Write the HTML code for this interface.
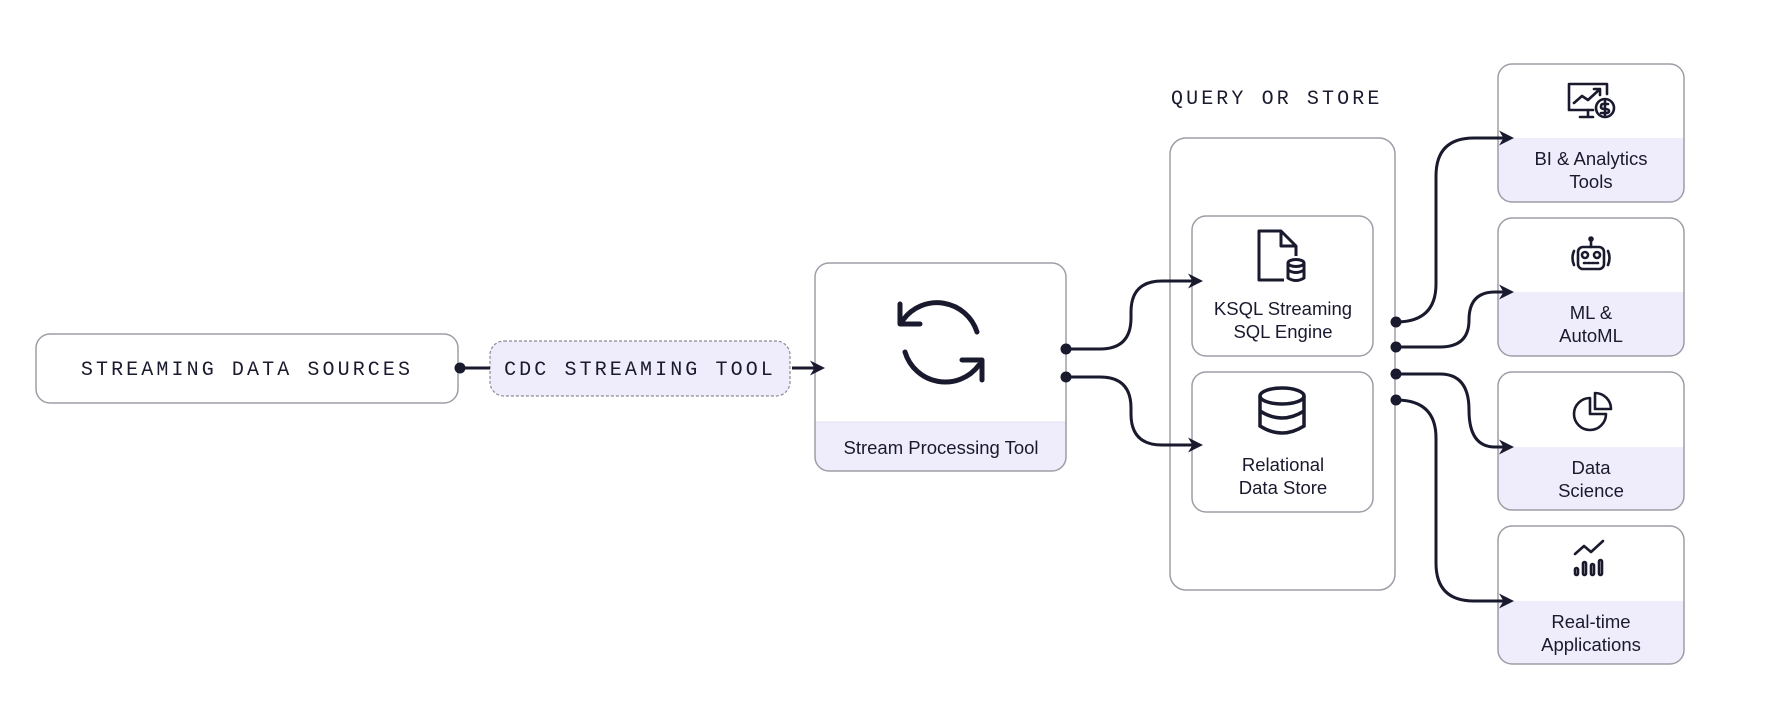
<!DOCTYPE html>
<html><head><meta charset="utf-8"><style>
html,body{margin:0;padding:0;background:#fff;}
svg{display:block;}
.mono{font-family:"Liberation Mono",monospace;font-size:20px;letter-spacing:3.1px;fill:#1a1a2e;}
.sans{font-family:"Liberation Sans",sans-serif;font-size:18.5px;fill:#1a1a2e;}
</style></head><body>
<svg width="1788" height="724" viewBox="0 0 1788 724" xmlns="http://www.w3.org/2000/svg">
<defs>
<marker id="ar" viewBox="0 0 10 10" refX="8" refY="5" markerWidth="15" markerHeight="15" orient="auto" markerUnits="userSpaceOnUse">
<path d="M0,0 L10,5 L0,10 L3,5 Z" fill="#1a1a2e"/>
</marker>
<clipPath id="c1"><rect x="815" y="263" width="251" height="208" rx="14"/></clipPath>
<clipPath id="r1"><rect x="1498" y="64" width="186" height="138" rx="14"/></clipPath>
<clipPath id="r2"><rect x="1498" y="218" width="186" height="138" rx="14"/></clipPath>
<clipPath id="r3"><rect x="1498" y="372" width="186" height="138" rx="14"/></clipPath>
<clipPath id="r4"><rect x="1498" y="526" width="186" height="138" rx="14"/></clipPath>
</defs>

<!-- Streaming data sources -->
<rect x="36" y="334" width="422" height="69" rx="14" fill="#fff" stroke="#9d9da6" stroke-width="1.5"/>
<text class="mono" x="247" y="375" text-anchor="middle">STREAMING DATA SOURCES</text>

<!-- CDC -->
<rect x="490" y="341" width="300" height="55" rx="14" fill="#efedfb" stroke="#8a8a98" stroke-width="1.2" stroke-dasharray="3,2"/>
<text class="mono" x="640" y="375" text-anchor="middle">CDC STREAMING TOOL</text>

<!-- Stream processing -->
<g clip-path="url(#c1)">
<rect x="815" y="263" width="251" height="208" fill="#fff"/>
<rect x="815" y="422" width="251" height="60" fill="#efedfb"/>
</g>
<line x1="815" y1="422" x2="1066" y2="422" stroke="#e2e0ee" stroke-width="1"/>
<rect x="815" y="263" width="251" height="208" rx="14" fill="none" stroke="#9d9da6" stroke-width="1.5"/>
<text class="sans" x="941" y="454" text-anchor="middle">Stream Processing Tool</text>
<g fill="none" stroke="#1a1a2e" stroke-width="5" stroke-linecap="round" stroke-linejoin="round">
<path d="M903,320 A42,42 0 0 1 977,332"/>
<path d="M979,365 A42,42 0 0 1 905,352"/>
<path d="M900,304 L900,324 L920,324"/>
<path d="M982,380 L982,360 L962,360"/>
</g>

<!-- Query or store -->
<text class="mono" x="1171" y="104">QUERY OR STORE</text>
<rect x="1170" y="138" width="225" height="452" rx="16" fill="#fff" stroke="#9d9da6" stroke-width="1.5"/>
<rect x="1192" y="216" width="181" height="140" rx="14" fill="#fff" stroke="#9d9da6" stroke-width="1.5"/>
<rect x="1192" y="372" width="181" height="140" rx="14" fill="#fff" stroke="#9d9da6" stroke-width="1.5"/>
<text class="sans" x="1283" y="315" text-anchor="middle">KSQL Streaming</text>
<text class="sans" x="1283" y="338" text-anchor="middle">SQL Engine</text>
<text class="sans" x="1283" y="471" text-anchor="middle">Relational</text>
<text class="sans" x="1283" y="494" text-anchor="middle">Data Store</text>
<g fill="none" stroke="#1a1a2e" stroke-width="3" stroke-linejoin="round">
<path d="M1284,280 H1259 V231 H1281 L1296,246 V256"/>
<path d="M1281,231 V246 H1296"/>
<ellipse cx="1296" cy="263" rx="8" ry="3.5"/>
<path d="M1288,263 V278 Q1296,283 1304,278 V263"/>
<path d="M1288,270 Q1296,275 1304,270"/>
</g>
<g fill="none" stroke="#1a1a2e" stroke-width="3.5">
<ellipse cx="1282" cy="396" rx="22" ry="8"/>
<path d="M1260,396 V426 Q1282,440 1304,426 V396"/>
<path d="M1260,411 Q1282,425 1304,411"/>
</g>

<!-- right boxes -->
<g clip-path="url(#r1)"><rect x="1498" y="64" width="186" height="138" fill="#fff"/><rect x="1498" y="138" width="186" height="70" fill="#efedfb"/></g>
<rect x="1498" y="64" width="186" height="138" rx="14" fill="none" stroke="#9d9da6" stroke-width="1.5"/>
<g clip-path="url(#r2)"><rect x="1498" y="218" width="186" height="138" fill="#fff"/><rect x="1498" y="292" width="186" height="70" fill="#efedfb"/></g>
<rect x="1498" y="218" width="186" height="138" rx="14" fill="none" stroke="#9d9da6" stroke-width="1.5"/>
<g clip-path="url(#r3)"><rect x="1498" y="372" width="186" height="138" fill="#fff"/><rect x="1498" y="447" width="186" height="70" fill="#efedfb"/></g>
<rect x="1498" y="372" width="186" height="138" rx="14" fill="none" stroke="#9d9da6" stroke-width="1.5"/>
<g clip-path="url(#r4)"><rect x="1498" y="526" width="186" height="138" fill="#fff"/><rect x="1498" y="601" width="186" height="70" fill="#efedfb"/></g>
<rect x="1498" y="526" width="186" height="138" rx="14" fill="none" stroke="#9d9da6" stroke-width="1.5"/>

<text class="sans" x="1591" y="165" text-anchor="middle">BI &amp; Analytics</text>
<text class="sans" x="1591" y="188" text-anchor="middle">Tools</text>
<text class="sans" x="1591" y="319" text-anchor="middle">ML &amp;</text>
<text class="sans" x="1591" y="342" text-anchor="middle">AutoML</text>
<text class="sans" x="1591" y="474" text-anchor="middle">Data</text>
<text class="sans" x="1591" y="497" text-anchor="middle">Science</text>
<text class="sans" x="1591" y="628" text-anchor="middle">Real-time</text>
<text class="sans" x="1591" y="651" text-anchor="middle">Applications</text>

<g fill="none" stroke="#1a1a2e" stroke-width="2.6" stroke-linecap="round" stroke-linejoin="round">
<path d="M1593,110 H1569 V84 H1607 V94"/>
<path d="M1588,110 V117 M1580,117 H1593"/>
<path d="M1574,103 L1582,96 L1588,100 L1600,89 M1594,89 H1600 V95"/>
<circle cx="1605" cy="108" r="9"/>
<path d="M1608,104 H1603 Q1601,104 1601,107 Q1601,109 1605,109 Q1609,109 1609,111 Q1609,113 1606,113 H1601 M1605,101 V115"/>
<rect x="1578" y="247" width="26" height="22" rx="5"/>
<path d="M1591,247 V241"/>
<circle cx="1591" cy="239" r="1.5" fill="#1a1a2e"/>
<circle cx="1585" cy="255" r="3"/><circle cx="1597" cy="255" r="3"/>
<path d="M1584,263 H1598" stroke-dasharray="2,2"/>
<path d="M1574,251 Q1571,258 1574,265 M1608,251 Q1611,258 1608,265"/>
<path d="M1590,398 A16,16 0 1 0 1606,414 H1590 Z"/>
<path d="M1595,393 A16,16 0 0 1 1611,409 H1595 Z"/>
<path d="M1575,554 L1584,546 L1591,552 L1603,541"/>
<rect x="1575" y="568" width="3" height="7" rx="1.5"/>
<rect x="1583" y="562" width="3" height="13" rx="1.5"/>
<rect x="1591" y="564" width="3" height="11" rx="1.5"/>
<rect x="1599" y="560" width="3" height="15" rx="1.5"/>
</g>

<!-- connectors (drawn last) -->
<g fill="none" stroke="#1a1a2e" stroke-width="3">
<line x1="460" y1="368" x2="490" y2="368"/>
<line x1="792" y1="368" x2="822" y2="368" marker-end="url(#ar)"/>
<path d="M1066,349 H1100 Q1131,349 1131,318 V312 Q1131,281 1162,281 H1200" marker-end="url(#ar)"/>
<path d="M1066,377 H1100 Q1131,377 1131,408 V414 Q1131,445 1162,445 H1200" marker-end="url(#ar)"/>
<path d="M1396,322 Q1436,322 1436,284 V176 Q1436,138 1474,138 H1511" marker-end="url(#ar)"/>
<path d="M1396,347 H1440 Q1469,347 1469,320 Q1469,292 1495,292 H1511" marker-end="url(#ar)"/>
<path d="M1396,374 H1440 Q1469,374 1469,410 Q1469,447 1495,447 H1511" marker-end="url(#ar)"/>
<path d="M1396,400 Q1436,400 1436,438 V563 Q1436,601 1474,601 H1511" marker-end="url(#ar)"/>
</g>
<g fill="#1a1a2e">
<circle cx="460" cy="368" r="5.5"/>
<circle cx="1066" cy="349" r="5.5"/>
<circle cx="1066" cy="377" r="5.5"/>
<circle cx="1396" cy="322" r="5.5"/>
<circle cx="1396" cy="347" r="5.5"/>
<circle cx="1396" cy="374" r="5.5"/>
<circle cx="1396" cy="400" r="5.5"/>
</g>
</svg>
</body></html>
